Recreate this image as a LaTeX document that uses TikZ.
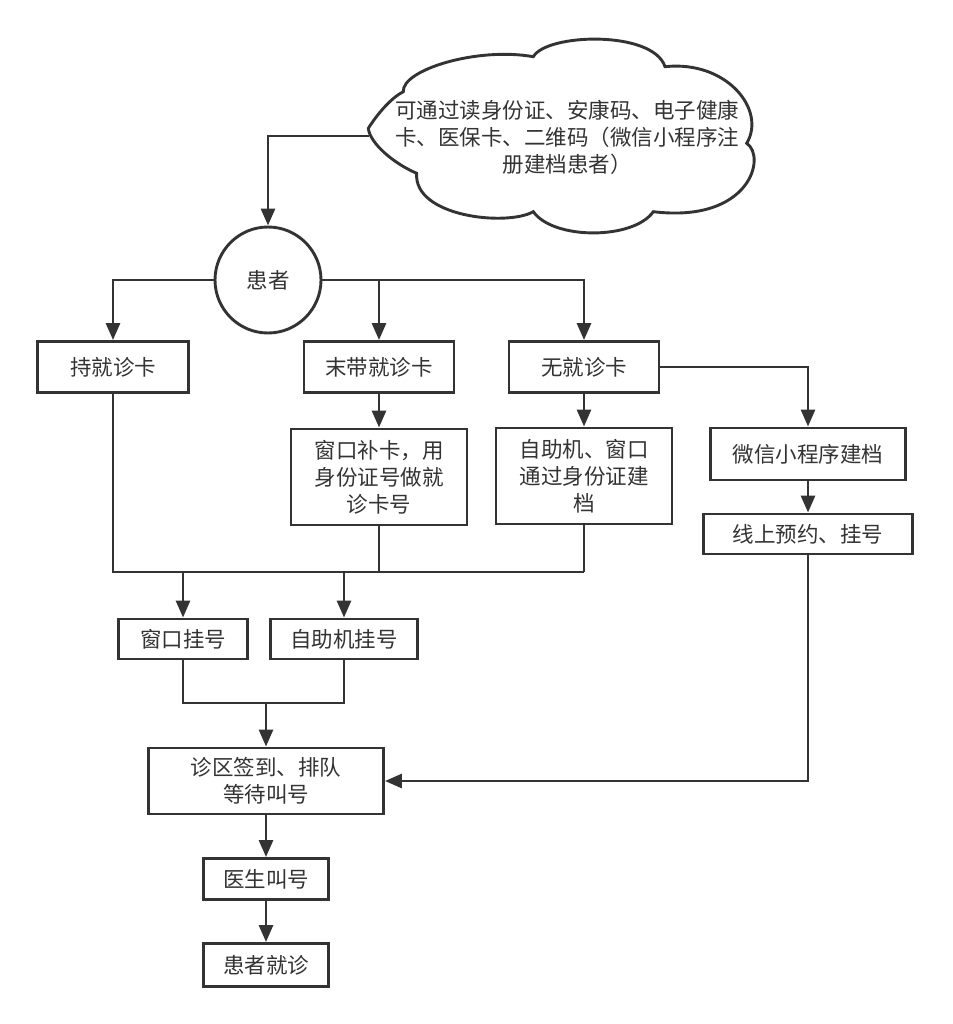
\documentclass[tikz,border=0pt]{standalone}
\usepackage{fontspec}
\setmainfont{Noto Sans CJK SC}
\usetikzlibrary{arrows.meta}
\definecolor{ink}{HTML}{333333}
\tikzset{
  box/.style={draw=ink, line width=2.9pt, fill=white, inner sep=0pt, align=center, text=ink,
    font=\fontsize{21.5}{27}\selectfont},
  conn/.style={draw=ink, line width=2.9pt},
  arr/.style={conn, -{Triangle[length=17pt,width=14pt]}},
}
\begin{document}
\begin{tikzpicture}[x=1pt,y=-1pt]
\useasboundingbox (0,0) rectangle (952,1024);
% cloud
\draw[ink, line width=2.9pt, fill=white]
  (368.3,128.3) .. controls (380,110) and (393.3,96.7) .. (403.3,91.7)
  .. controls (401.7,70) and (476.7,46.7) .. (533.3,56.7)
  .. controls (546.7,33.3) and (653,30) .. (665,66.7)
  .. controls (726.7,60) and (766.7,110) .. (746.7,143.3)
  .. controls (766.7,156.7) and (750,223.3) .. (653.3,211.7)
  .. controls (633.3,240) and (553.3,240) .. (533.3,211.7)
  .. controls (506.7,226.7) and (413.3,216.7) .. (416.7,173.3)
  .. controls (393.3,163.3) and (370,143.3) .. (368.3,128.3) -- cycle;
\node[text=ink, align=center, font=\fontsize{21.5}{27}\selectfont] (cloudtxt) at (567,137)
  {可通过读身份证、安康码、电子健康\\卡、医保卡、二维码（微信小程序注\\册建档患者）};
\coordinate (cloudL) at (369,136);

% nodes
\node[box, circle, minimum size=106pt] (pat) at (268,280) {患者};
\node[box, minimum width=151pt, minimum height=51pt] (b1) at (113,367) {持就诊卡};
\node[box, minimum width=150pt, minimum height=51pt] (b2) at (379,367) {末带就诊卡};
\node[box, minimum width=150pt, minimum height=51pt] (b3) at (584,367) {无就诊卡};
\node[box, minimum width=176pt, minimum height=96pt] (c2) at (379,477) {窗口补卡，用\\身份证号做就\\诊卡号};
\node[box, minimum width=176pt, minimum height=96pt] (c3) at (584,476) {自助机、窗口\\通过身份证建\\档};
\node[box, minimum width=195pt, minimum height=52pt] (wx) at (808,454) {微信小程序建档};
\node[box, minimum width=209pt, minimum height=40pt] (ol) at (808,534) {线上预约、挂号};
\node[box, minimum width=129pt, minimum height=40pt] (r1) at (183,639) {窗口挂号};
\node[box, minimum width=147pt, minimum height=40pt] (r2) at (344,639) {自助机挂号};
\node[box, minimum width=235pt, minimum height=66pt] (zq) at (266,781) {诊区签到、排队\\等待叫号};
\node[box, minimum width=125pt, minimum height=41pt] (ys) at (266,879) {医生叫号};
\node[box, minimum width=125pt, minimum height=43pt] (jz) at (266,965) {患者就诊};

\coordinate (j1) at (584,572);
\coordinate (mm) at (266,703);

% connectors
\draw[arr] (cloudL) -| (pat.north);
\draw[arr] (pat.west) -| (b1.north);
\draw[arr] (pat.east) -| (b2.north);
\draw[arr] (pat.east) -| (b3.north);
\draw[arr] (b2.south) -- (c2.north);
\draw[arr] (b3.south) -- (c3.north);
\draw[arr] (b3.east) -| (wx.north);
\draw[arr] (wx.south) -- (ol.north);
\draw[conn] (b1.south) |- (j1);
\draw[conn] (c2.south) -- (c2.south |- j1);
\draw[conn] (c3.south) -- (j1);
\draw[arr] (r1.north |- j1) -- (r1.north);
\draw[arr] (r2.north |- j1) -- (r2.north);
\draw[conn] (r1.south) |- (mm) -| (r2.south);
\draw[arr] (mm) -- (zq.north);
\draw[arr] (ol.south) |- (zq.east);
\draw[arr] (zq.south) -- (ys.north);
\draw[arr] (ys.south) -- (jz.north);
\end{tikzpicture}
\end{document}
